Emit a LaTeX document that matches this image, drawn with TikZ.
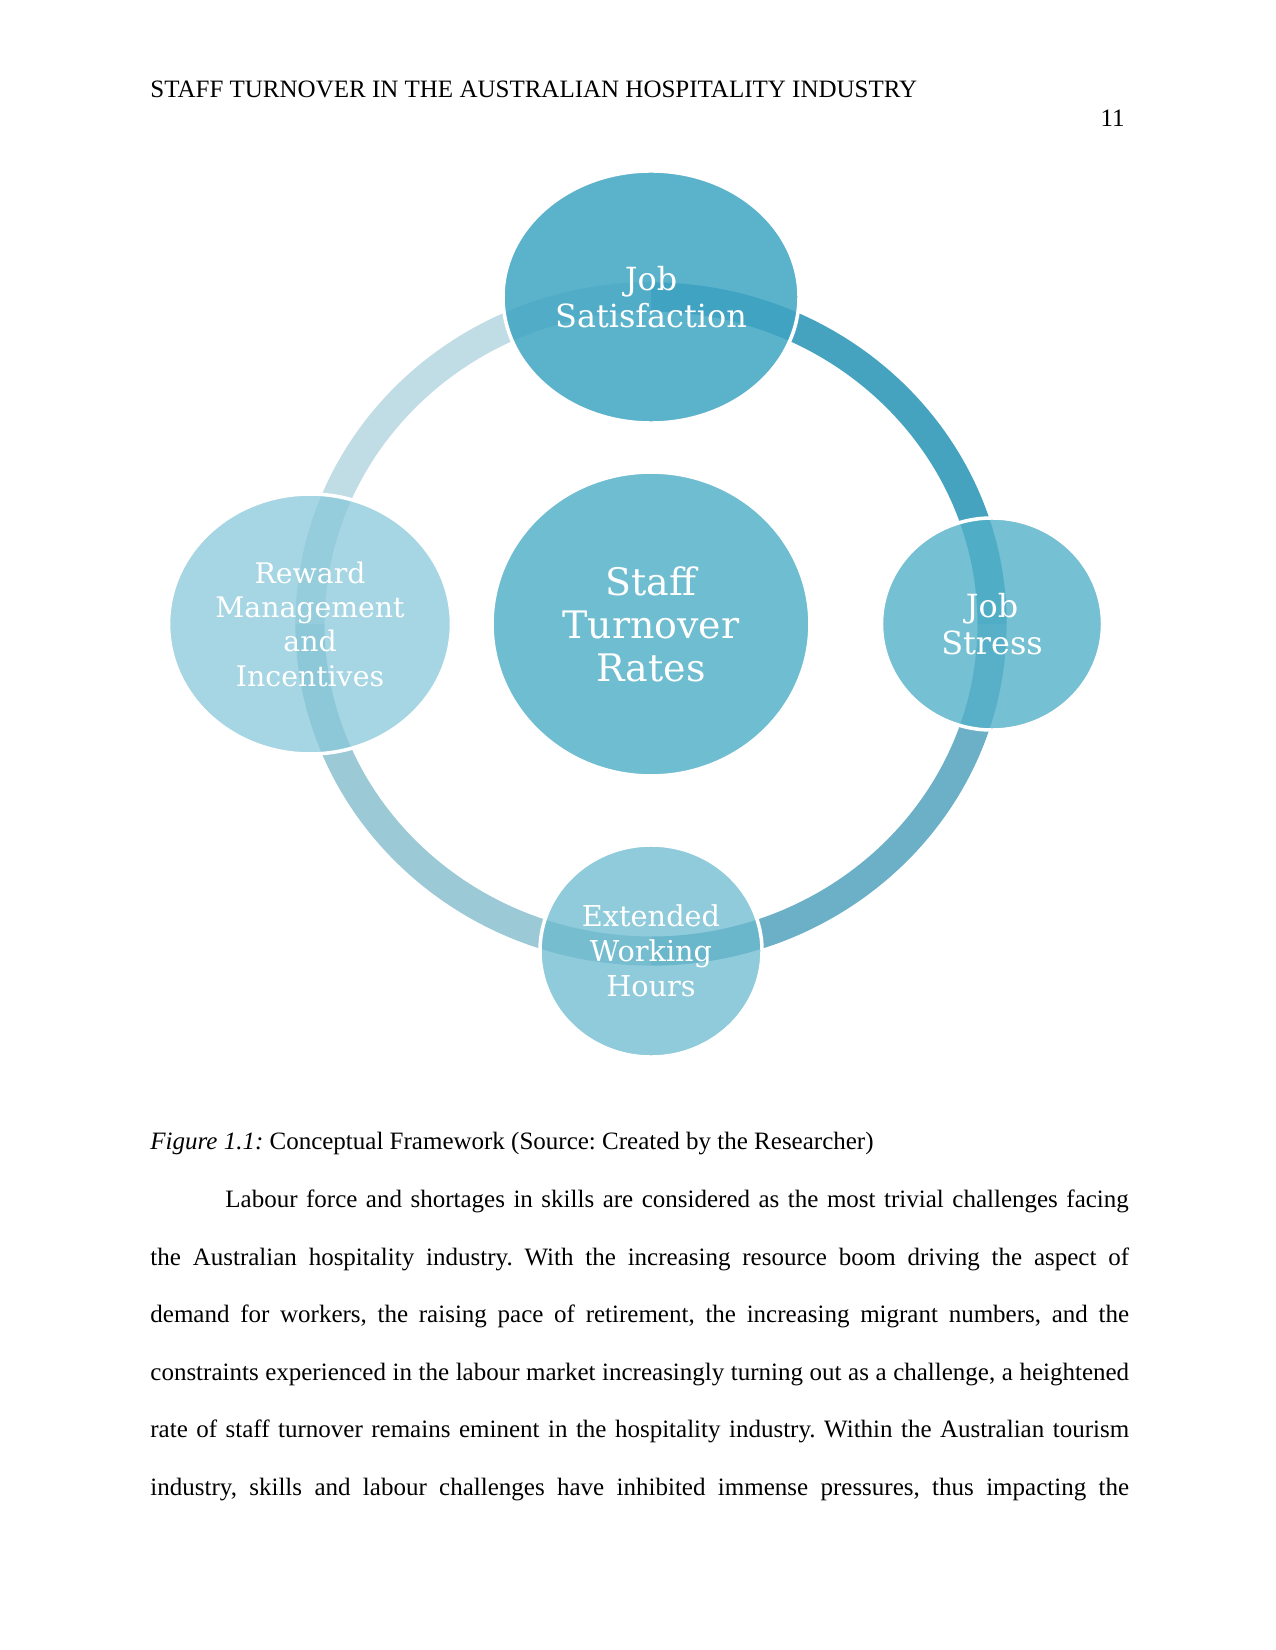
\documentclass[tikz,border=0pt]{standalone}
\usepackage{fontspec}
\setmainfont{Liberation Serif}
\newfontfamily\bubblefont{DejaVu Serif}
\usepackage{tikz}
\usetikzlibrary{shapes.geometric,backgrounds}
\usepackage{xcolor}
\frenchspacing
\definecolor{ringA}{RGB}{69,163,192}
\definecolor{ringB}{RGB}{108,176,199}
\definecolor{ringC}{RGB}{155,201,214}
\definecolor{ringD}{RGB}{192,220,229}
\definecolor{satfill}{RGB}{62,164,194}
\definecolor{stafffill}{RGB}{63,167,192}
\definecolor{stressfill}{RGB}{82,176,200}
\definecolor{hoursfill}{RGB}{106,186,207}
\definecolor{rewardfill}{RGB}{136,200,218}

\begin{document}
\begin{tikzpicture}[
      x=0.48pt, y=0.48pt,
      bubble/.style={ellipse, draw=white, line width=1.7pt, fill opacity=0.75, text opacity=1,
        inner sep=0pt, text=white, align=center},
      ring/.style={line width=14pt},
      body/.style={inner sep=0pt, anchor=base west, font=\fontsize{12}{14}\selectfont}
    ]
    \useasboundingbox (0,0) rectangle (1275,-1650);
    % running head and page number
    \node[body] (head) at (150,-98) {STAFF TURNOVER IN THE AUSTRALIAN HOSPITALITY INDUSTRY};
    \node[body, anchor=base east] (pagenum) at (1125,-127) {11};
    % conceptual framework: four factors round staff turnover
    \node[bubble, fill=satfill, fill opacity=0.85, minimum width=142.1pt, minimum height=121pt,
      font=\bubblefont\fontsize{15.3}{18}\selectfont] (jobsat) at (651,-297) {Job\\Satisfaction};
    \node[bubble, fill=stafffill, minimum width=152.6pt, minimum height=145.9pt,
      font=\bubblefont\fontsize{18.2}{20.7}\selectfont] (staff) at (651,-624) {Staff\\Turnover\\Rates};
    \node[bubble, fill=stressfill, fill opacity=0.8, minimum width=106.1pt, minimum height=101.8pt,
      font=\bubblefont\fontsize{15.3}{17.7}\selectfont] (stress) at (992,-624) {Job\\Stress};
    \node[bubble, fill=hoursfill, minimum width=106.6pt, minimum height=101.8pt,
      font=\bubblefont\fontsize{13.8}{16.7}\selectfont] (hours) at (651,-951) {Extended\\Working\\Hours};
    \node[bubble, fill=rewardfill, minimum width=135.8pt, minimum height=124.8pt,
      font=\bubblefont\fontsize{13.6}{16.5}\selectfont] (reward) at (310,-624) {Reward\\Management\\and\\Incentives};
    \begin{pgfonlayer}{background}
      \draw[ring, draw=ringA] (jobsat.center) arc[start angle=90, end angle=0, x radius=163.7pt, y radius=157pt];
      \draw[ring, draw=ringB] (stress.center) arc[start angle=0, end angle=-90, x radius=163.7pt, y radius=157pt];
      \draw[ring, draw=ringC] (hours.center) arc[start angle=270, end angle=180, x radius=163.7pt, y radius=157pt];
      \draw[ring, draw=ringD] (reward.center) arc[start angle=180, end angle=90, x radius=163.7pt, y radius=157pt];
    \end{pgfonlayer}
    % caption and following text
    \node[body] (caption) at (150,-1149) {\textit{Figure 1.1:} Conceptual Framework (Source: Created by the Researcher)};
    \node[body] (line1) at (225,-1207) {\makebox[6in][s]{Labour force and shortages in skills are considered as the most trivial challenges facing}};
    \node[body] (line2) at (150,-1265) {\makebox[6.5in][s]{the Australian hospitality industry. With the increasing resource boom driving the aspect of}};
    \node[body] (line3) at (150,-1322) {\makebox[6.5in][s]{demand for workers, the raising pace of retirement, the increasing migrant numbers, and the}};
    \node[body] (line4) at (150,-1380) {\makebox[6.5in][s]{constraints experienced in the labour market increasingly turning out as a challenge, a heightened}};
    \node[body] (line5) at (150,-1437) {\makebox[6.5in][s]{rate of staff turnover remains eminent in the hospitality industry. Within the Australian tourism}};
    \node[body] (line6) at (150,-1495) {\makebox[6.5in][s]{industry, skills and labour challenges have inhibited immense pressures, thus impacting the}};
  \end{tikzpicture}
\end{document}
